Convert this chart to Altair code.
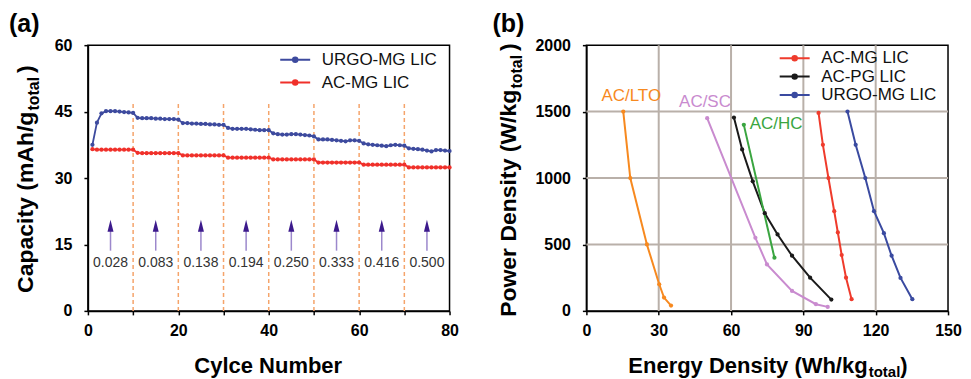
import altair as alt
import pandas as pd

FONT = "Liberation Sans"

# ---------------- Panel (a) data ----------------
cycles = list(range(1, 81))
urgo_cap = [37.5, 42.5, 44.6, 45.1, 45.1, 45.1, 45.0, 44.9, 44.8, 44.7,
            43.6, 43.5, 43.5, 43.5, 43.4, 43.4, 43.3, 43.3, 43.3, 43.2,
            42.4, 42.4, 42.3, 42.3, 42.2, 42.2, 42.1, 42.1, 42.0, 42.0,
            41.3, 41.1, 41.1, 41.1, 41.1, 41.0, 40.9, 40.8, 40.8, 40.8,
            40.1, 39.9, 39.8, 39.8, 39.9, 39.9, 39.8, 39.7, 39.6, 39.4,
            38.7, 38.7, 38.7, 38.6, 38.5, 38.4, 38.3, 38.5, 38.5, 38.4,
            37.8, 37.6, 37.5, 37.4, 37.3, 37.2, 37.4, 37.5, 37.4, 37.3,
            36.7, 36.6, 36.5, 36.4, 36.2, 36.0, 36.3, 36.3, 36.2, 36.1]
acmg_cap = [36.5, 36.4, 36.4, 36.4, 36.4, 36.4, 36.4, 36.4, 36.4, 36.4,
            35.7, 35.6, 35.6, 35.6, 35.6, 35.6, 35.6, 35.6, 35.6, 35.6,
            35.1, 35.1, 35.1, 35.1, 35.1, 35.1, 35.1, 35.1, 35.1, 35.1,
            34.6, 34.6, 34.6, 34.6, 34.6, 34.6, 34.6, 34.6, 34.6, 34.6,
            34.2, 34.2, 34.2, 34.2, 34.2, 34.2, 34.2, 34.2, 34.2, 34.2,
            33.5, 33.5, 33.5, 33.5, 33.5, 33.5, 33.5, 33.5, 33.5, 33.5,
            33.0, 33.0, 33.0, 33.0, 33.0, 33.0, 33.0, 33.0, 33.0, 33.0,
            32.4, 32.4, 32.4, 32.4, 32.4, 32.4, 32.4, 32.4, 32.4, 32.4]
series_a = ["URGO-MG LIC", "AC-MG LIC"]
colors_a = ["#3d4a9e", "#f0302a"]
divider_cycles = [10, 20, 30, 40, 50, 60, 70]
arrow_cycles = [5, 15, 25, 35, 45, 55, 65, 75]
rate_labels = ["0.028", "0.083", "0.138", "0.194", "0.250", "0.333", "0.416", "0.500"]

# ---------------- Panel (b) data ----------------
acmg_E = [96.3, 98.1, 100.4, 102.8, 104.3, 105.9, 107.7, 110.0]
acmg_P = [1490, 1250, 1000, 750, 590, 420, 250, 88]
acpg_E = [61.2, 64.6, 69.0, 74.0, 79.3, 85.3, 92.8, 101.6]
acpg_P = [1455, 1215, 975, 735, 575, 415, 250, 85]
urgo_E = [108.3, 111.7, 115.7, 119.3, 123.4, 126.6, 130.3, 135.2]
urgo_P = [1500, 1250, 1000, 750, 585, 415, 248, 88]
lto_E = [15.3, 18.2, 25.1, 30.2, 32.2, 35.1]
lto_P = [1500, 1000, 500, 200, 100, 40]
sc_E = [50.1, 70.1, 74.9, 85.3, 95.2, 100.1]
sc_P = [1450, 550, 350, 150, 50, 30]
hc_E = [65.3, 78.0]
hc_P = [1400, 400]
series_b = ["AC-MG LIC", "AC-PG LIC", "URGO-MG LIC", "AC/LTO", "AC/SC", "AC/HC"]
colors_b = ["#ef3b2c", "#1a1a1a", "#3a4aa0", "#f7891f", "#c98bcf", "#3aa540"]
legend_b = ["AC-MG LIC", "AC-PG LIC", "URGO-MG LIC"]
ref_labels = ["AC/LTO", "AC/SC", "AC/HC"]
ref_label_E = [18.6, 49.2, 78.7]
ref_label_P = [1617, 1571, 1406]
grid_E = [30, 60, 90, 120]
grid_P = [500, 1000, 1500]

W, H = 362, 266

# ---------- helpers for text widths (Arial Bold metrics, em) ----------
AW = {'C': .722, 'a': .556, 'p': .611, 'c': .556, 'i': .278, 't': .333, 'y': .556, ' ': .278,
      '(': .333, 'm': .889, 'A': .722, 'h': .611, '/': .278, 'g': .611, ')': .333, 'o': .611,
      'l': .278, 'P': .667, 'w': .778, 'e': .556, 'r': .389, 'D': .722, 'n': .611, 's': .556,
      'W': .944, 'k': .556, 'E': .667, 'N': .722, 'u': .611, 'b': .611}


def tw(s, size):
    return sum(AW.get(ch, .6) for ch in s) * size


def vtext(txt, x, y, size, align="center", angle=0, weight="bold", baseline="alphabetic"):
    return alt.Chart(pd.DataFrame({"t": [txt]})).mark_text(
        font=FONT, fontSize=size, fontWeight=weight, color="black", align=align,
        angle=angle, baseline=baseline).encode(x=alt.value(x), y=alt.value(y), text="t:N")


XT_BASE = 328  # x-title baseline (plot coords)

# ---------------- Panel (a) ----------------
df_a = pd.DataFrame({
    "cycle": cycles * 2,
    "cap": urgo_cap + acmg_cap,
    "series": [series_a[0]] * 80 + [series_a[1]] * 80,
})
df_div = pd.DataFrame({"cycle": divider_cycles})
df_arr = pd.DataFrame({"cycle": arrow_cycles, "label": rate_labels})

legend_sym = "M-1,0H5M1.55,0a0.45,0.45 0 1,0 0.9,0a0.45,0.45 0 1,0 -0.9,0"

xa = alt.X("cycle:Q", scale=alt.Scale(domain=[0, 80], nice=False),
           axis=alt.Axis(values=list(range(0, 81, 10)), labelFlush=False,
                         labelExpr="datum.value % 20 == 0 ? datum.label : ''", title=None))
ya = alt.Y("cap:Q", scale=alt.Scale(domain=[0, 60], nice=False),
           axis=alt.Axis(values=[0, 7.5, 15, 22.5, 30, 37.5, 45, 52.5, 60],
                         labelExpr="datum.value % 15 == 0 ? datum.label : ''", title=None))

color_a = alt.Color("series:N", scale=alt.Scale(domain=series_a, range=colors_a),
                    legend=alt.Legend(orient="none", legendX=189, legendY=6, title=None,
                                      symbolType=legend_sym, symbolSize=100, symbolStrokeWidth=2,
                                      labelFont=FONT, labelFontSize=17, labelColor="#111",
                                      labelOffset=28, rowPadding=5, padding=0))

div_rules = alt.Chart(df_div).mark_rule(color="#f5a46b", strokeDash=[4, 3], strokeWidth=1.5).encode(
    x=alt.X("cycle:Q"), y=alt.datum(0), y2=alt.datum(47))
lines_a = alt.Chart(df_a).mark_line(strokeWidth=1.8).encode(x=xa, y=ya, color=color_a)
pts_a = alt.Chart(df_a).mark_circle(size=18, opacity=1).encode(x=xa, y=ya, color=color_a)
shafts = alt.Chart(df_arr).mark_rule(color="#9c88cc", strokeWidth=1.5).encode(
    x="cycle:Q", y=alt.datum(13.6), y2=alt.datum(18.5))
heads = alt.Chart(df_arr).mark_point(shape="M0,-1L0.5,1L-0.5,1Z", filled=True, size=144,
                                     color="#3c1a8c", opacity=1).encode(
    x="cycle:Q", y=alt.datum(19.2))
rate_text = alt.Chart(df_arr).mark_text(font=FONT, fontSize=14, color="#333", baseline="middle").encode(
    x="cycle:Q", y=alt.datum(10.8), text="label:N")

ya0 = 248
p1 = "Capacity (mAh/g"
ya1 = ya0 - tw(p1, 23)
ya2 = ya1 - tw("total", 16) - 5
LX = -55
titles_a = [
    vtext(p1, LX, ya0, 23, align="left", angle=270),
    vtext("total", LX + 6, ya1 - 1, 16, align="left", angle=270),
    vtext(")", LX, ya2, 23, align="left", angle=270),
    vtext("Cylce Number", 180.5, XT_BASE, 22),
    vtext("(a)", -79, -13, 25, align="left"),
]

panel_a = alt.layer(div_rules, lines_a, pts_a, shafts, heads, rate_text, *titles_a).properties(
    width=W, height=H)

# ---------------- Panel (b) ----------------
rows = []
for name, E, P in [("AC-MG LIC", acmg_E, acmg_P), ("AC-PG LIC", acpg_E, acpg_P),
                   ("URGO-MG LIC", urgo_E, urgo_P), ("AC/LTO", lto_E, lto_P),
                   ("AC/SC", sc_E, sc_P), ("AC/HC", hc_E, hc_P)]:
    for i, (e, p) in enumerate(zip(E, P)):
        rows.append({"series": name, "E": e, "P": p, "i": i})
df_b = pd.DataFrame(rows)
df_lbl = pd.DataFrame({"series": ref_labels, "E": ref_label_E, "P": ref_label_P})

xb = alt.X("E:Q", scale=alt.Scale(domain=[0, 150], nice=False),
           axis=alt.Axis(values=list(range(0, 151, 15)), labelOverlap=False, labelFlush=False,
                         labelExpr="datum.value % 30 == 0 ? datum.label : ''", title=None))
yb = alt.Y("P:Q", scale=alt.Scale(domain=[0, 2000], nice=False),
           axis=alt.Axis(values=list(range(0, 2001, 250)), format="d",
                         labelExpr="datum.value % 500 == 0 ? datum.label : ''", title=None))
color_b = alt.Color("series:N", scale=alt.Scale(domain=series_b, range=colors_b),
                    legend=alt.Legend(orient="none", legendX=190, legendY=4.5, title=None,
                                      values=legend_b,
                                      symbolType=legend_sym, symbolSize=100, symbolStrokeWidth=2,
                                      labelFont=FONT, labelFontSize=17, labelColor="#111",
                                      labelOffset=28, rowPadding=0.5, padding=0))

grid_v = alt.Chart(pd.DataFrame({"E": grid_E})).mark_rule(color="#b9b0a9", strokeWidth=2).encode(
    x=alt.X("E:Q"), y=alt.datum(0), y2=alt.datum(2000))
grid_h = alt.Chart(pd.DataFrame({"P": grid_P})).mark_rule(color="#b9b0a9", strokeWidth=2).encode(
    y=alt.Y("P:Q"), x=alt.datum(0), x2=alt.datum(150))
lines_b = alt.Chart(df_b).mark_line(strokeWidth=2).encode(
    x=xb, y=yb, color=color_b, order="i:Q")
pts_b = alt.Chart(df_b).mark_circle(size=18, opacity=1).encode(x=xb, y=yb, color=color_b)
lbl_b = alt.Chart(df_lbl).mark_text(font=FONT, fontSize=17, baseline="middle").encode(
    x=alt.X("E:Q"), y=alt.Y("P:Q"),
    color=alt.Color("series:N", scale=alt.Scale(domain=series_b, range=colors_b), legend=None),
    text="series:N")

yb0 = 272
q1 = "Power Density (W/kg"
yb1 = yb0 - tw(q1, 23)
yb2 = yb1 - tw("total", 16) - 5
RX = -70
xq0 = 42
q2 = "Energy Density (Wh/kg"
xq1 = xq0 + tw(q2, 22)
xq2 = xq1 + tw("total", 15) + 1
titles_b = [
    vtext(q1, RX, yb0, 23, align="left", angle=270),
    vtext("total", RX + 6, yb1 - 1, 16, align="left", angle=270),
    vtext(")", RX, yb2, 23, align="left", angle=270),
    vtext(q2, xq0, XT_BASE, 22, align="left"),
    vtext("total", xq1 + 1, XT_BASE + 4, 15, align="left"),
    vtext(")", xq2, XT_BASE, 22, align="left"),
    vtext("(b)", -94, -13, 25, align="left"),
]

panel_b = alt.layer(grid_v, grid_h, lines_b, pts_b, lbl_b, *titles_b).properties(width=W, height=H)

chart = alt.hconcat(panel_a, panel_b, spacing=32).resolve_scale(
    x="independent", y="independent", color="independent"
).properties(
    padding={"left": 0, "top": 3, "right": 0, "bottom": 0}
).configure_view(
    stroke="black", strokeWidth=1.5
).configure_axis(
    grid=False, domainColor="black", domainWidth=1.5, tickColor="black", tickWidth=1.5,
    tickSize=4, labelFont=FONT, labelFontSize=16, labelFontWeight="bold", labelColor="black",
    labelPadding=8
).configure_axisY(labelPadding=12)

chart.save("out.html", embed_options={"renderer": "svg", "actions": False})
